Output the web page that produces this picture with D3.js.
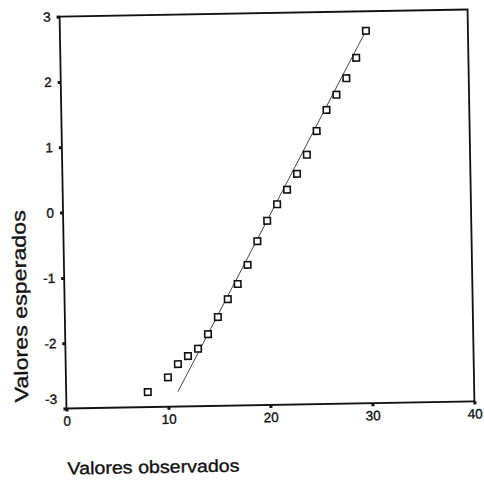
<!DOCTYPE html>
<html>
<head>
<meta charset="utf-8">
<script src="https://cdn.jsdelivr.net/npm/d3@7"></script>
<style>
  html, body { margin: 0; padding: 0; background: #fff; }
  svg { display: block; }
  text { font-family: "Liberation Sans", Arial, sans-serif; fill: #111; stroke: #111; stroke-width: 0.35px; }
</style>
</head>
<body>
<svg id="chart" width="484" height="483"></svg>
<script>
// Observed values and their expected normal scores (Q-Q plot)
const observed = [8, 10, 11, 12, 13, 14, 15, 16, 17, 18, 19, 20, 21, 22, 23, 24, 25, 26, 27, 28, 29, 30];
const expected = [-2.77, -2.55, -2.35, -2.23, -2.12, -1.90, -1.64, -1.37, -1.14, -0.85, -0.49,
                  -0.18, 0.07, 0.29, 0.53, 0.82, 1.18, 1.50, 1.73, 1.98, 2.29, 2.70];
// Reference normal line: expected = (observed - mean) / sd
const lineMean = 20.6;
const lineSd = 3.48;
const xTicks = [0, 10, 20, 30, 40];
const yTicks = [-3, -2, -1, 0, 1, 2, 3];
const xTitle = "Valores observados";
const yTitle = "Valores esperados";

const svg = d3.select("#chart");
const plotLeft = 63, plotRight = 471, plotTop = 13, plotBottom = 405;

const x = d3.scaleLinear().domain([0, 40]).range([plotLeft, plotRight]);
const y = d3.scaleLinear().domain([-3, 3]).range([plotBottom, plotTop]);

// whole figure sits slightly tilted on the page
const g = svg.append("g").attr("transform", "rotate(-1, 267, 209)");

// frame
g.append("rect")
  .attr("x", plotLeft).attr("y", plotTop)
  .attr("width", plotRight - plotLeft).attr("height", plotBottom - plotTop)
  .attr("fill", "none").attr("stroke", "#111").attr("stroke-width", 1.8);

// axes with small square tick marks
const xAxis = g.append("g")
  .attr("transform", `translate(0,${plotBottom})`)
  .call(d3.axisBottom(x).tickValues(xTicks).tickSize(3).tickPadding(4.5).tickFormat(d3.format("d")));
const yAxis = g.append("g")
  .attr("transform", `translate(${plotLeft},0)`)
  .call(d3.axisLeft(y).tickValues(yTicks).tickSize(3).tickPadding(6).tickFormat(d => d < 0 ? "-" + Math.abs(d) : d));

[xAxis, yAxis].forEach(a => {
  a.select(".domain").remove();
  a.selectAll(".tick line").attr("stroke", "#111").attr("stroke-width", 3);
  a.selectAll(".tick text").attr("font-size", 13.5).attr("fill", "#111")
    .attr("font-family", "'Liberation Sans', Arial, sans-serif");
});
// lowest y label sits just above the corner
yAxis.selectAll(".tick").filter(d => d === -3).select("text").attr("dy", "-0.4em");

// reference line spanning the range of expected scores
const yMin = d3.min(expected), yMax = d3.max(expected);
g.append("line")
  .attr("x1", x(lineMean + yMin * lineSd)).attr("y1", y(yMin))
  .attr("x2", x(lineMean + yMax * lineSd)).attr("y2", y(yMax))
  .attr("stroke", "#333").attr("stroke-width", 0.9);

// square markers
const s = 6.5;
g.append("g").selectAll("rect")
  .data(observed.map((o, i) => ({ o, e: expected[i] })))
  .join("rect")
  .attr("x", d => x(d.o) - s / 2).attr("y", d => y(d.e) - s / 2)
  .attr("width", s).attr("height", s)
  .attr("fill", "#fff").attr("stroke", "#111").attr("stroke-width", 1.6);

// axis titles
g.append("text")
  .attr("x", plotLeft).attr("y", 471)
  .attr("font-size", 17.5)
  .attr("textLength", 172).attr("lengthAdjust", "spacingAndGlyphs")
  .text(xTitle);

g.append("text")
  .attr("transform", "translate(25,398) rotate(-90)")
  .attr("font-size", 19)
  .attr("textLength", 192).attr("lengthAdjust", "spacingAndGlyphs")
  .text(yTitle);
</script>
</body>
</html>
